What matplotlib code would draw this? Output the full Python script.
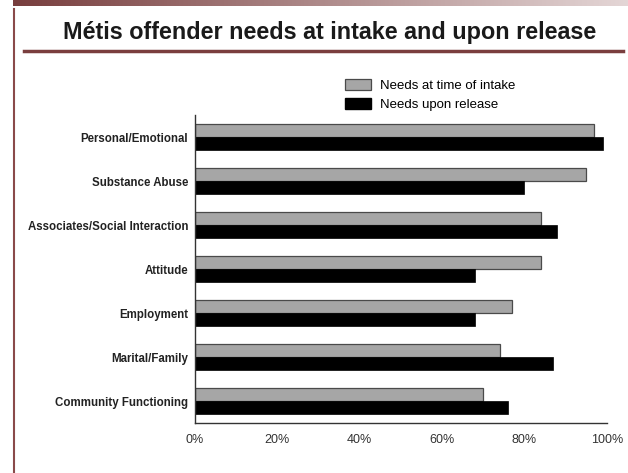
import matplotlib
matplotlib.use("Agg")
import matplotlib.pyplot as plt
import numpy as np
from matplotlib.lines import Line2D
from matplotlib.patches import Patch

categories = ["Personal/Emotional", "Substance Abuse", "Associates/Social Interaction",
              "Attitude", "Employment", "Marital/Family", "Community Functioning"]
intake = [97, 95, 84, 84, 77, 74, 70]
release = [99, 80, 88, 68, 68, 87, 76]
series_names = ["Needs at time of intake", "Needs upon release"]
xticks = [0, 20, 40, 60, 80, 100]
xticklabels = ["0%", "20%", "40%", "60%", "80%", "100%"]
title = "Métis offender needs at intake and upon release"

W, H = 628, 473
fig = plt.figure(figsize=(W / 100, H / 100), dpi=100)
fig.patch.set_facecolor("white")

hax = fig.add_axes([13 / W, 1 - 6 / H, 1 - 13 / W, 6 / H])
c1 = np.array([120, 62, 62]) / 255
c2 = np.array([228, 214, 214]) / 255
t = np.linspace(0, 1, 256)[None, :, None]
grad = c1 + (c2 - c1) * t
hax.imshow(grad, aspect="auto", extent=[0, 1, 0, 1])
hax.axis("off")

fig.add_artist(Line2D([13.5 / W, 13.5 / W], [0, 1 - 9 / H], color="#8a4a4a", lw=1.5,
                      transform=fig.transFigure))
fig.add_artist(Line2D([24 / W, 623 / W], [1 - 51 / H, 1 - 51 / H], color="#7a3e3e", lw=2.5,
                      transform=fig.transFigure))

fig.text(330 / W, 1 - 33 / H, title, ha="center", va="center",
         fontsize=16.8, fontweight="bold", family="Liberation Sans", color="#1a1a1a")

ax = fig.add_axes([195 / W, 1 - 423.3 / H, (606.7 - 195) / W, (423.3 - 115) / H])
y = np.arange(len(categories))
bh = 0.3
ax.barh(y - bh / 2, intake, height=bh, color="#a6a6a6", edgecolor="#4a4a4a", linewidth=0.9,
        label=series_names[0])
ax.barh(y + bh / 2, release, height=bh, color="black", edgecolor="black", linewidth=0.5,
        label=series_names[1])
ax.set_ylim(6.5, -0.5)
ax.set_xlim(0, 100)
ax.set_yticks(y)
ax.set_yticklabels(categories, fontsize=8.3, fontweight="bold",
                   family=["Liberation Sans Narrow", "Liberation Sans"], color="#222222")
ax.set_xticks(xticks)
ax.set_xticklabels(xticklabels, fontsize=9, family="Liberation Sans", color="#333333")
ax.tick_params(axis="both", length=0)
ax.tick_params(axis="x", pad=8)
ax.tick_params(axis="y", pad=5)
for s in ["top", "right"]:
    ax.spines[s].set_visible(False)
for s in ["left", "bottom"]:
    ax.spines[s].set_color("#333333")
    ax.spines[s].set_linewidth(1.0)

handles = [Patch(facecolor="#a6a6a6", edgecolor="#4a4a4a", linewidth=0.9),
           Patch(facecolor="black", edgecolor="black")]
fig.legend(handles, series_names, loc="upper left",
           bbox_to_anchor=(345 / W, 1 - 79 / H), frameon=False,
           prop={"family": "Liberation Sans", "size": 9.5},
           handlelength=1.95, handleheight=0.95, labelspacing=0.4,
           handletextpad=0.7, borderpad=0, borderaxespad=0)

fig.savefig("out.png", dpi=100)
